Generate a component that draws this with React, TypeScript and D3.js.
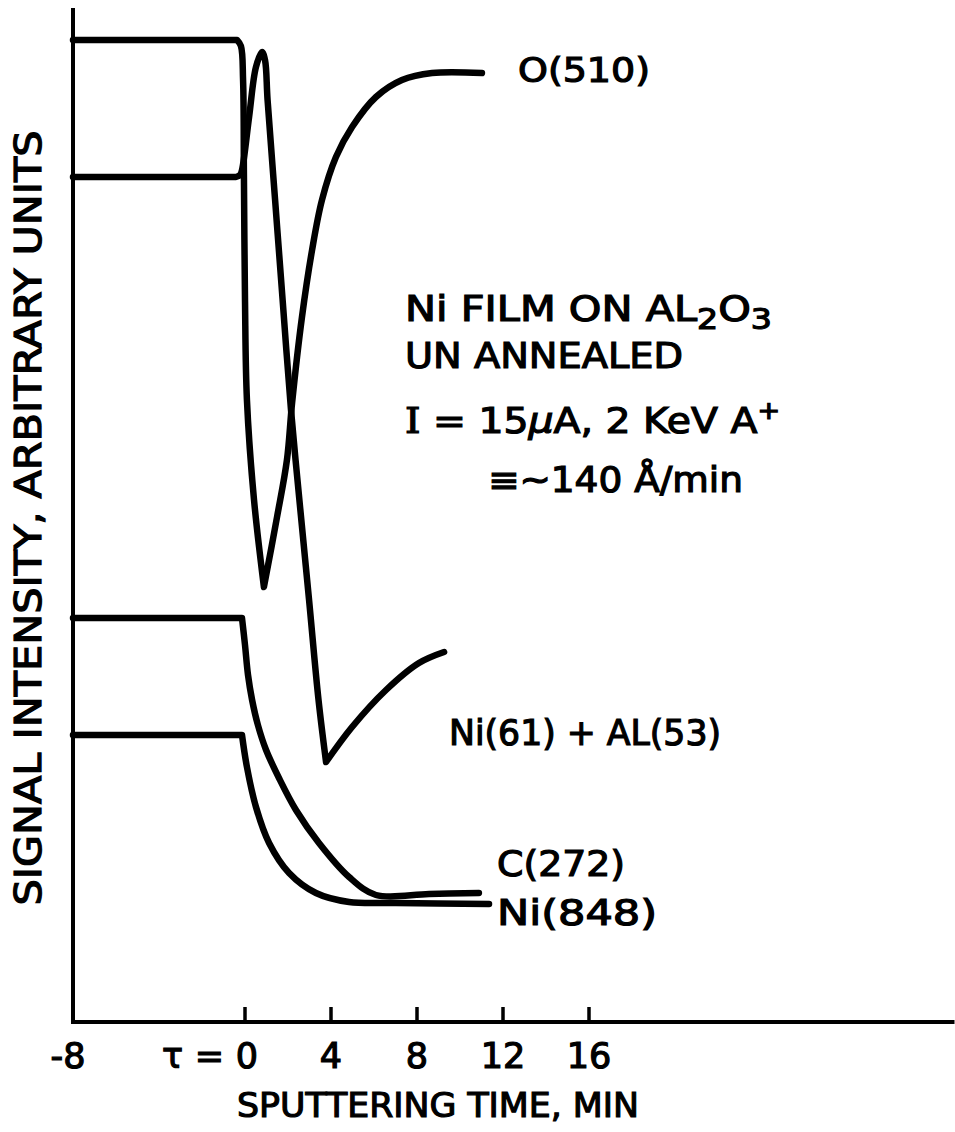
import React from "react";
import * as d3 from "d3";

// ---- Data (time in minutes, signal in arbitrary units) ----
const xTickValues = [-8, 0, 4, 8, 12, 16];
const xTickLabels = ["-8", "τ = 0", "4", "8", "12", "16"];

const oxygenT = [-8, -0.37, -0.19, -0.09, -0.05, 0, 0.09, 0.42, 0.88, 1.49, 1.95, 2.19, 2.65, 3.12, 3.58, 4.23, 4.98, 6.09, 7.3, 8.7, 11.02];
const oxygenV = [98.2, 98.2, 97.6, 94.2, 84.7, 72.2, 62.2, 52.2, 43.5, 50.5, 56.2, 61.9, 70.5, 77.2, 82.2, 86.5, 89.5, 92.5, 94.2, 94.9, 94.9];

const niAlT = [-8, -0.42, -0.23, -0.14, 0.19, 0.51, 0.79, 0.93, 1.05, 1.4, 1.75, 2.14, 2.53, 2.98, 3.42, 3.77, 4.98, 6.56, 8.09, 9.26];
const niAlV = [84.5, 84.5, 84.7, 85.2, 90.5, 95.5, 97.0, 96.2, 92.2, 82.2, 72.2, 61.2, 52.2, 42.2, 32.2, 26.0, 29.5, 33.2, 35.9, 37.0];

const carbonT = [-8, -0.14, 0, 0.14, 0.33, 0.6, 0.98, 1.58, 2.37, 3.44, 4.84, 6.09, 8.56, 10.88];
const carbonV = [40.4, 40.4, 37.7, 34.7, 32.2, 29.7, 27.2, 24.4, 21.2, 17.9, 14.5, 12.7, 12.8, 12.9];

const ni848T = [-8, -0.14, 0.09, 0.51, 1.12, 2.05, 3.3, 4.84, 7.02, 11.35];
const ni848V = [28.7, 28.7, 25.5, 21.5, 17.9, 14.9, 12.9, 12.0, 11.9, 11.8];

const seriesNames = ["O(510)", "Ni(61) + AL(53)", "C(272)", "Ni(848)"];

const W = 955;
const H = 1132;
const FONT = "'DejaVu Sans', 'Liberation Sans', Arial, sans-serif";

type P = [number, number];

export default function App() {
  const x = d3.scaleLinear().domain([-8, 33]).range([73, 954.5]);
  const y = d3.scaleLinear().domain([0, 101.4]).range([1022, 8]);

  const line = d3
    .line<P>()
    .x((d) => x(d[0]))
    .y((d) => y(d[1]))
    .curve(d3.curveCatmullRom.alpha(0.5));

  const zip = (t: number[], v: number[]) => t.map((ti, i) => [ti, v[i]] as P);

  // split at the end of the initial plateau and at sharp minima
  const buildPath = (pts: P[]) => {
    const segs: P[][] = [];
    let cur: P[] = [pts[0]];
    for (let i = 1; i < pts.length; i++) {
      cur.push(pts[i]);
      if (i < pts.length - 1) {
        const s1 = (pts[i][1] - pts[i - 1][1]) / (pts[i][0] - pts[i - 1][0]);
        const s2 = (pts[i + 1][1] - pts[i][1]) / (pts[i + 1][0] - pts[i][0]);
        if (i === 1 || (s1 < -1 && s2 > 1)) {
          segs.push(cur);
          cur = [pts[i]];
        }
      }
    }
    segs.push(cur);
    return segs
      .map((s, k) => {
        const d = line(s) || "";
        return k === 0 ? d : "L" + d.slice(1);
      })
      .join("");
  };

  const series = [
    zip(oxygenT, oxygenV),
    zip(niAlT, niAlV),
    zip(carbonT, carbonV),
    zip(ni848T, ni848V),
  ];

  const textStyle = {
    fontFamily: FONT,
    fill: "#000",
    stroke: "#000",
    strokeWidth: 1.2,
  } as React.CSSProperties;

  return (
    <svg width={W} height={H} viewBox={`0 0 ${W} ${H}`} style={{ position: "absolute", left: 0, top: 0, background: "#fff" }}>
      <rect x={0} y={0} width={W} height={H} fill="#fff" />
      {/* axes */}
      <line x1={x(-8)} y1={y(101.4)} x2={x(-8)} y2={y(0)} stroke="#000" strokeWidth={4} />
      <line x1={x(-8) - 2} y1={y(0)} x2={x(33)} y2={y(0)} stroke="#000" strokeWidth={4} />
      {xTickValues.filter((v) => v > -8).map((v) => (
        <line key={v} x1={x(v)} y1={y(0)} x2={x(v)} y2={y(0) - 15} stroke="#000" strokeWidth={3.5} />
      ))}
      {xTickValues.map((v, i) => {
        const lab = xTickLabels[i];
        if (v === 0) {
          return (
            <text key={"l" + v} x={x(v) + 13} y={1068} textAnchor="end" fontSize={35} style={textStyle} textLength={96} lengthAdjust="spacing">
              {lab}
            </text>
          );
        }
        return (
          <text key={"l" + v} x={v === -8 ? x(v) - 5 : x(v)} y={1068} textAnchor="middle" fontSize={35} style={textStyle}>
            {lab}
          </text>
        );
      })}
      <text x={438} y={1117} textAnchor="middle" fontSize={34} style={textStyle} textLength={402} lengthAdjust="spacingAndGlyphs">
        SPUTTERING TIME, MIN
      </text>
      <text
        transform={`translate(41, 518) rotate(-90)`}
        textAnchor="middle"
        fontSize={37}
        style={textStyle}
        textLength={775}
        lengthAdjust="spacingAndGlyphs"
      >
        SIGNAL INTENSITY, ARBITRARY UNITS
      </text>

      {/* curves */}
      {series.map((s, i) => (
        <path key={i} d={buildPath(s)} fill="none" stroke="#000" strokeWidth={6.5} strokeLinejoin="round" strokeLinecap="round" />
      ))}

      {/* series labels */}
      <text x={518} y={82} fontSize={34} style={textStyle} textLength={132} lengthAdjust="spacingAndGlyphs">{seriesNames[0]}</text>
      <text x={449} y={745} fontSize={35} style={textStyle} textLength={272} lengthAdjust="spacingAndGlyphs">{seriesNames[1]}</text>
      <text x={497} y={876} fontSize={35} style={textStyle} textLength={128} lengthAdjust="spacingAndGlyphs">{seriesNames[2]}</text>
      <text x={497} y={925} fontSize={35} style={textStyle} textLength={160} lengthAdjust="spacingAndGlyphs">{seriesNames[3]}</text>

      {/* annotation */}
      <text x={405} y={321} fontSize={35} style={textStyle} textLength={367} lengthAdjust="spacingAndGlyphs">
        Ni FILM ON AL<tspan fontSize={28} dy={8}>2</tspan><tspan dy={-8}>O</tspan><tspan fontSize={28} dy={8}>3</tspan>
      </text>
      <text x={405} y={368} fontSize={35} style={textStyle} textLength={278} lengthAdjust="spacingAndGlyphs">UN ANNEALED</text>
      <text x={405} y={433} fontSize={35} style={textStyle} textLength={375} lengthAdjust="spacingAndGlyphs">
        <tspan fontFamily="'DejaVu Serif', serif">I</tspan> = 15<tspan fontStyle="italic">μ</tspan>A, 2 KeV A<tspan fontSize={24} dy={-14}>+</tspan>
      </text>
      <text x={488} y={492} fontSize={35} style={textStyle} textLength={255} lengthAdjust="spacingAndGlyphs">≡~140 Å/min</text>
    </svg>
  );
}
